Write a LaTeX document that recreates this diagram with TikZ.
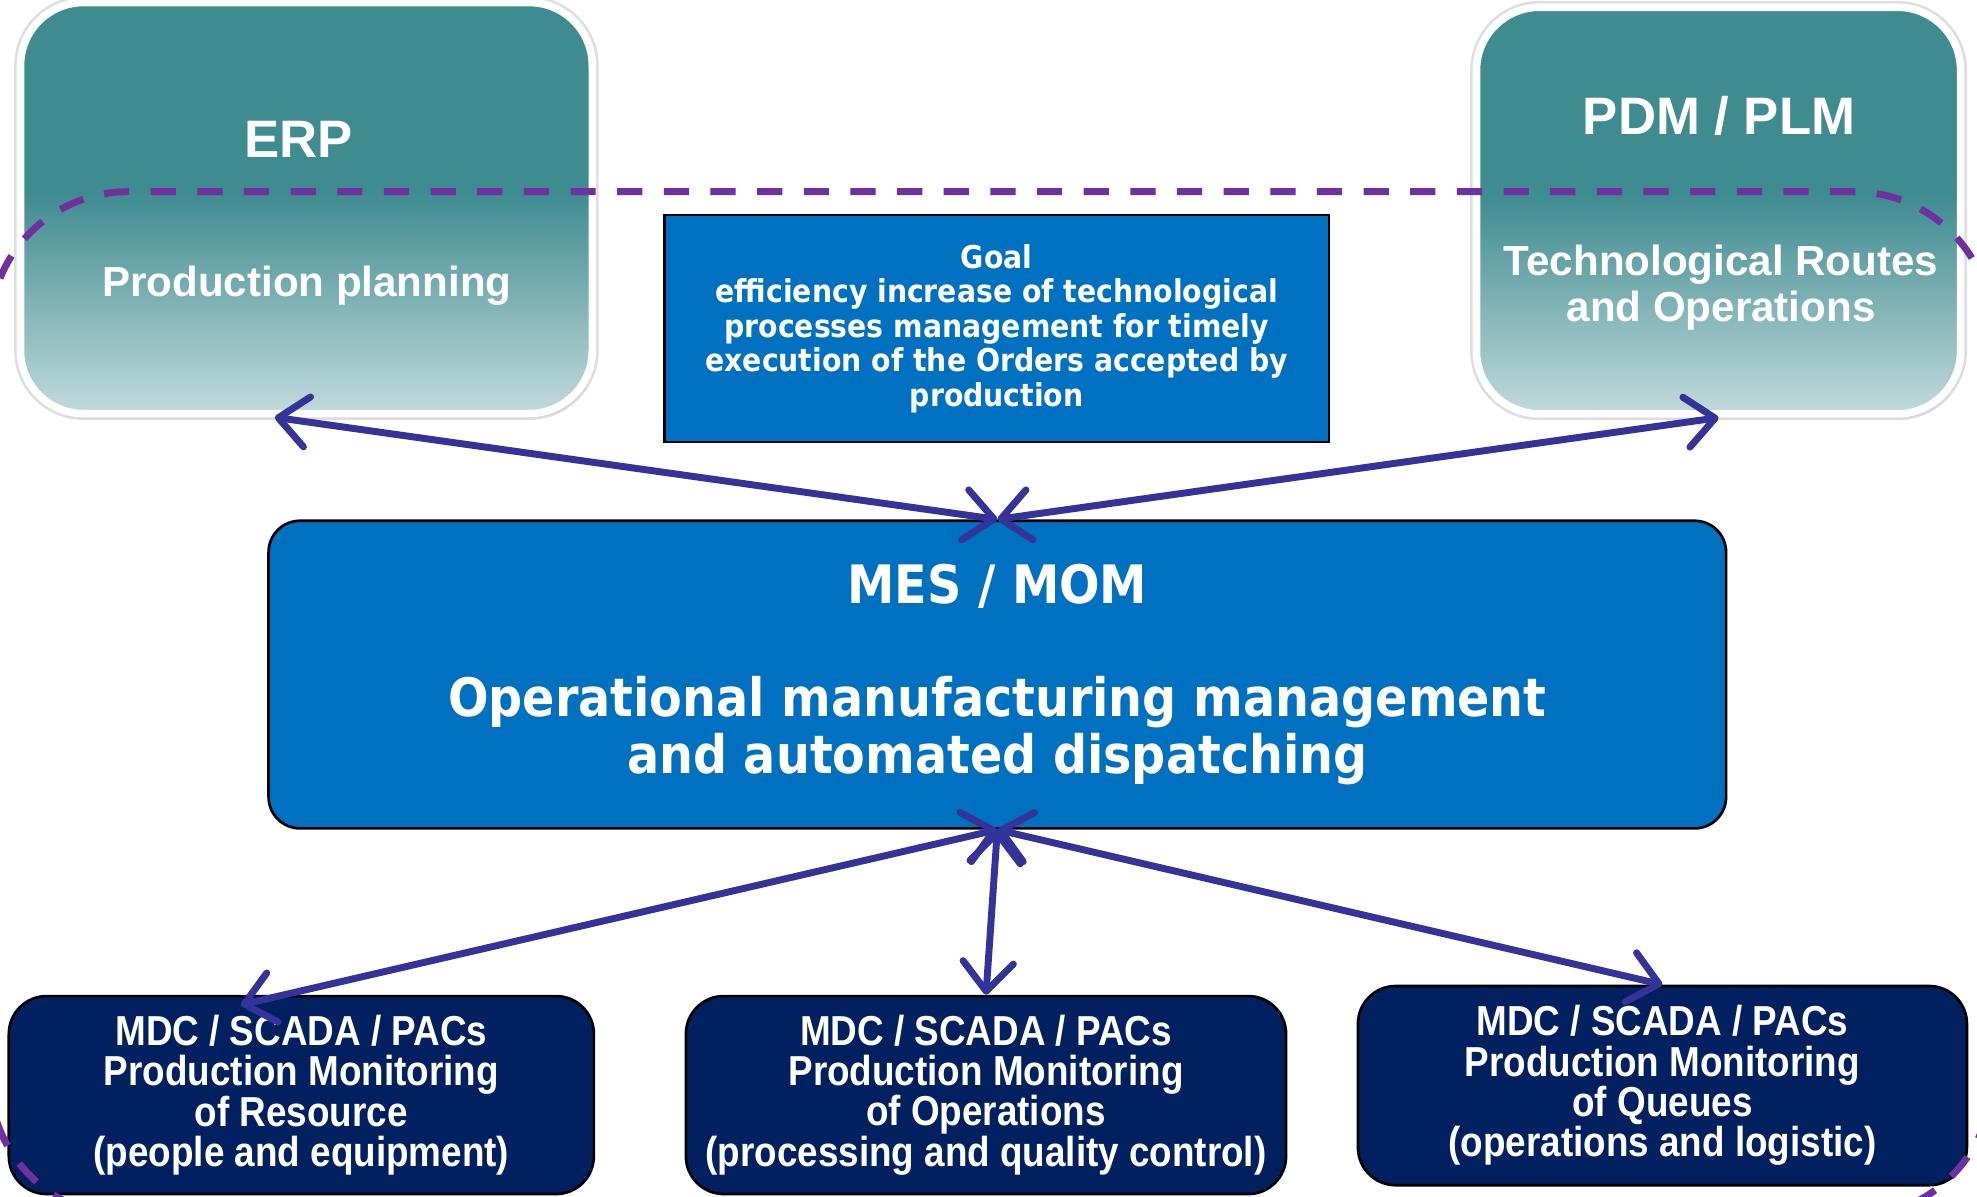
\documentclass[tikz,border=0pt]{standalone}
\usepackage{fontspec}
\setmainfont{Liberation Sans}
\newfontfamily\tahomafont[FakeStretch=0.9]{DejaVu Sans}
\newfontfamily\narrowfont[FakeStretch=0.88]{Liberation Sans}
\usetikzlibrary{arrows.meta,shadows}
\definecolor{tealdark}{HTML}{3E8B90}
\definecolor{teallight}{HTML}{C2DADC}
\definecolor{mesblue}{HTML}{0070C0}
\definecolor{navy}{HTML}{002060}
\definecolor{linkblue}{HTML}{333399}
\definecolor{planpurple}{HTML}{7030A0}
\pgfdeclareverticalshading{tealfade}{100bp}{color(0bp)=(teallight); color(25bp)=(teallight); color(52bp)=(tealdark); color(100bp)=(tealdark)}

\begin{document}
\begin{tikzpicture}[
  >={Straight Barb[length=0.23cm,width=0.4cm,round]},
  tealbox/.style={rectangle, rounded corners=0.5cm, draw=white, line width=0.06cm, shading=tealfade, preaction={draw=black!13, line width=0.1cm}, drop shadow={opacity=0.25, shadow xshift=0.02cm, shadow yshift=-0.03cm}},
  bluebox/.style={rectangle, draw=black, line width=0.6pt, fill=mesblue, text=white, align=center, inner sep=0pt},
  navybox/.style={rectangle, rounded corners=0.3cm, draw=black, line width=0.6pt, fill=navy, text=white, align=center, inner sep=0pt, minimum height=1.57cm, font=\narrowfont\bfseries\fontsize{9.45}{9.1}\selectfont},
  headtext/.style={text=white, font=\bfseries\fontsize{11.9}{14}\selectfont, inner sep=0pt},
  subtext/.style={text=white, align=center, font=\bfseries\fontsize{9.5}{10.5}\selectfont, inner sep=0pt},
  link/.style={<->, draw=linkblue, line width=0.055cm, line cap=round}
]
\clip (0,0) rectangle (15.68,-9.49);

\node[tealbox, minimum width=4.535cm, minimum height=3.26cm] (erp) at (2.43,-1.65) {};
\node[tealbox, minimum width=3.84cm, minimum height=3.225cm] (pdm) at (13.63,-1.67) {};
\node[headtext, anchor=base] (erptitle) at (2.37,-1.246) {ERP};
\node[subtext, anchor=base] (erpsub) at (2.434,-2.353) {Production planning};
\node[headtext, anchor=base] (pdmtitle) at (13.634,-1.07) {PDM / PLM};
\node[subtext] (pdmsub) at (13.65,-2.28) {Technological Routes\\and Operations};

\node[bluebox, minimum width=5.27cm, minimum height=1.80cm, font=\tahomafont\bfseries\fontsize{7.1}{7.8}\selectfont] (goal) at (7.905,-2.605) {Goal\\efficiency increase of technological\\processes management for timely\\execution of the Orders accepted by\\production};
\node[bluebox, rounded corners=0.25cm, minimum width=11.56cm, minimum height=2.44cm, font=\tahomafont\bfseries\fontsize{11.95}{12.8}\selectfont] (mes) at (7.91,-5.35) {MES / MOM\\[12.8pt]Operational manufacturing management\\and automated dispatching};

\node[navybox, minimum width=4.64cm] (res) at (2.39,-8.685) {MDC / SCADA / PACs\\Production Monitoring\\of Resource\\(people and equipment)};
\node[navybox, minimum width=4.76cm] (ops) at (7.82,-8.685) {MDC / SCADA / PACs\\Production Monitoring\\of Operations\\(processing and quality control)};
\node[navybox, minimum width=4.83cm, minimum height=1.58cm] (que) at (13.185,-8.61) {MDC / SCADA / PACs\\Production Monitoring\\of Queues\\(operations and logistic)};

\draw[link] ([xshift=-0.25cm]erp.south) -- (mes.north);
\draw[link] (pdm.south) -- (mes.north);
\draw[link] (mes.south) -- ([xshift=-0.48cm, yshift=-0.08cm]res.north);
\draw[link] (mes.south) -- (ops.north);
\draw[link] (mes.south) -- (que.north);

\draw[planpurple, line width=0.055cm, dash pattern=on 0.2cm off 0.17cm, rounded corners=1.1cm] (-0.08,-1.52) rectangle (15.80,-9.65);
\end{tikzpicture}
\end{document}
